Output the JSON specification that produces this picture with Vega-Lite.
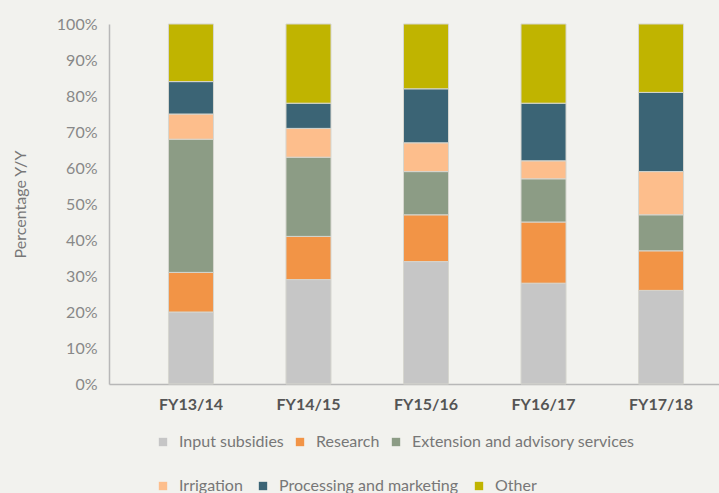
{
  "$schema": "https://vega.github.io/schema/vega-lite/v6.json",
  "width": 634,
  "height": 360,
  "autosize": "none",
  "padding": {"left": 109, "top": 24, "right": 0, "bottom": 109},
  "background": "#f2f2ee",
  "config": {"view": {"stroke": null}, "font": "Lato"},
  "data": {"values": [
    {"year": "FY13/14", "cat": "Input subsidies", "o": 1, "v": 20},
    {"year": "FY13/14", "cat": "Research", "o": 2, "v": 11},
    {"year": "FY13/14", "cat": "Extension and advisory services", "o": 3, "v": 37},
    {"year": "FY13/14", "cat": "Irrigation", "o": 4, "v": 7},
    {"year": "FY13/14", "cat": "Processing and marketing", "o": 5, "v": 9},
    {"year": "FY13/14", "cat": "Other", "o": 6, "v": 16},
    {"year": "FY14/15", "cat": "Input subsidies", "o": 1, "v": 29},
    {"year": "FY14/15", "cat": "Research", "o": 2, "v": 12},
    {"year": "FY14/15", "cat": "Extension and advisory services", "o": 3, "v": 22},
    {"year": "FY14/15", "cat": "Irrigation", "o": 4, "v": 8},
    {"year": "FY14/15", "cat": "Processing and marketing", "o": 5, "v": 7},
    {"year": "FY14/15", "cat": "Other", "o": 6, "v": 22},
    {"year": "FY15/16", "cat": "Input subsidies", "o": 1, "v": 34},
    {"year": "FY15/16", "cat": "Research", "o": 2, "v": 13},
    {"year": "FY15/16", "cat": "Extension and advisory services", "o": 3, "v": 12},
    {"year": "FY15/16", "cat": "Irrigation", "o": 4, "v": 8},
    {"year": "FY15/16", "cat": "Processing and marketing", "o": 5, "v": 15},
    {"year": "FY15/16", "cat": "Other", "o": 6, "v": 18},
    {"year": "FY16/17", "cat": "Input subsidies", "o": 1, "v": 28},
    {"year": "FY16/17", "cat": "Research", "o": 2, "v": 17},
    {"year": "FY16/17", "cat": "Extension and advisory services", "o": 3, "v": 12},
    {"year": "FY16/17", "cat": "Irrigation", "o": 4, "v": 5},
    {"year": "FY16/17", "cat": "Processing and marketing", "o": 5, "v": 16},
    {"year": "FY16/17", "cat": "Other", "o": 6, "v": 22},
    {"year": "FY17/18", "cat": "Input subsidies", "o": 1, "v": 26},
    {"year": "FY17/18", "cat": "Research", "o": 2, "v": 11},
    {"year": "FY17/18", "cat": "Extension and advisory services", "o": 3, "v": 10},
    {"year": "FY17/18", "cat": "Irrigation", "o": 4, "v": 12},
    {"year": "FY17/18", "cat": "Processing and marketing", "o": 5, "v": 22},
    {"year": "FY17/18", "cat": "Other", "o": 6, "v": 19}
  ]},
  "encoding": {
    "x": {
      "field": "year", "type": "nominal", "sort": null,
      "scale": {"paddingInner": 0.617, "paddingOuter": 0.506},
      "axis": {
        "title": null, "labelAngle": 0, "ticks": false, "domainColor": "#b8b8b8", "domainWidth": 1.5,
        "labelFont": "Lato", "labelFontWeight": "bold", "labelFontSize": 16,
        "labelColor": "#555555", "labelPadding": 12
      }
    },
    "y": {
      "field": "v", "type": "quantitative", "stack": "zero",
      "scale": {"domain": [0, 100], "nice": false},
      "axis": {
        "title": "Percentage Y/Y", "titleFontSize": 16, "titleFontWeight": "normal", "titleColor": "#777777",
        "titleFont": "Lato", "titlePadding": 28,
        "values": [0, 10, 20, 30, 40, 50, 60, 70, 80, 90, 100],
        "labelExpr": "datum.value + '%'", "grid": false, "ticks": false,
        "domainColor": "#b8b8b8", "domainWidth": 1.5,
        "labelFont": "Lato", "labelFontSize": 16, "labelColor": "#888888", "labelPadding": 12
      }
    },
    "order": {"field": "o", "type": "quantitative"}
  },
  "layer": [
    {
      "mark": {"type": "bar", "stroke": "#d6d6cf", "strokeWidth": 1},
      "encoding": {
        "fill": {
          "field": "cat", "type": "nominal",
          "scale": {
            "domain": ["Input subsidies", "Research", "Extension and advisory services", "Irrigation", "Processing and marketing", "Other"],
            "range": ["#c6c6c6", "#f29446", "#8c9c85", "#fdbe8c", "#3b6475", "#c0b400"]
          },
          "legend": {
            "title": null, "orient": "none", "legendX": 46, "legendY": 410, "direction": "horizontal",
            "values": ["Input subsidies", "Research", "Extension and advisory services"],
            "symbolType": "square", "symbolSize": 70, "symbolStrokeWidth": 0,
            "labelFont": "Lato", "labelFontSize": 16, "labelColor": "#777777",
            "columnPadding": 8, "labelOffset": 8, "labelLimit": 400
          }
        }
      }
    },
    {
      "mark": {"type": "bar", "opacity": 0},
      "encoding": {
        "color": {
          "field": "cat", "type": "nominal",
          "scale": {
            "domain": ["Irrigation", "Processing and marketing", "Other"],
            "range": ["#fdbe8c", "#3b6475", "#c0b400"]
          },
          "legend": {
            "title": null, "orient": "none", "legendX": 46, "legendY": 454, "direction": "horizontal",
            "symbolType": "square", "symbolSize": 70, "symbolStrokeWidth": 0, "symbolOpacity": 1,
            "labelFont": "Lato", "labelFontSize": 16, "labelColor": "#777777",
            "columnPadding": 12, "labelOffset": 8, "labelLimit": 400
          }
        }
      }
    }
  ]
}
